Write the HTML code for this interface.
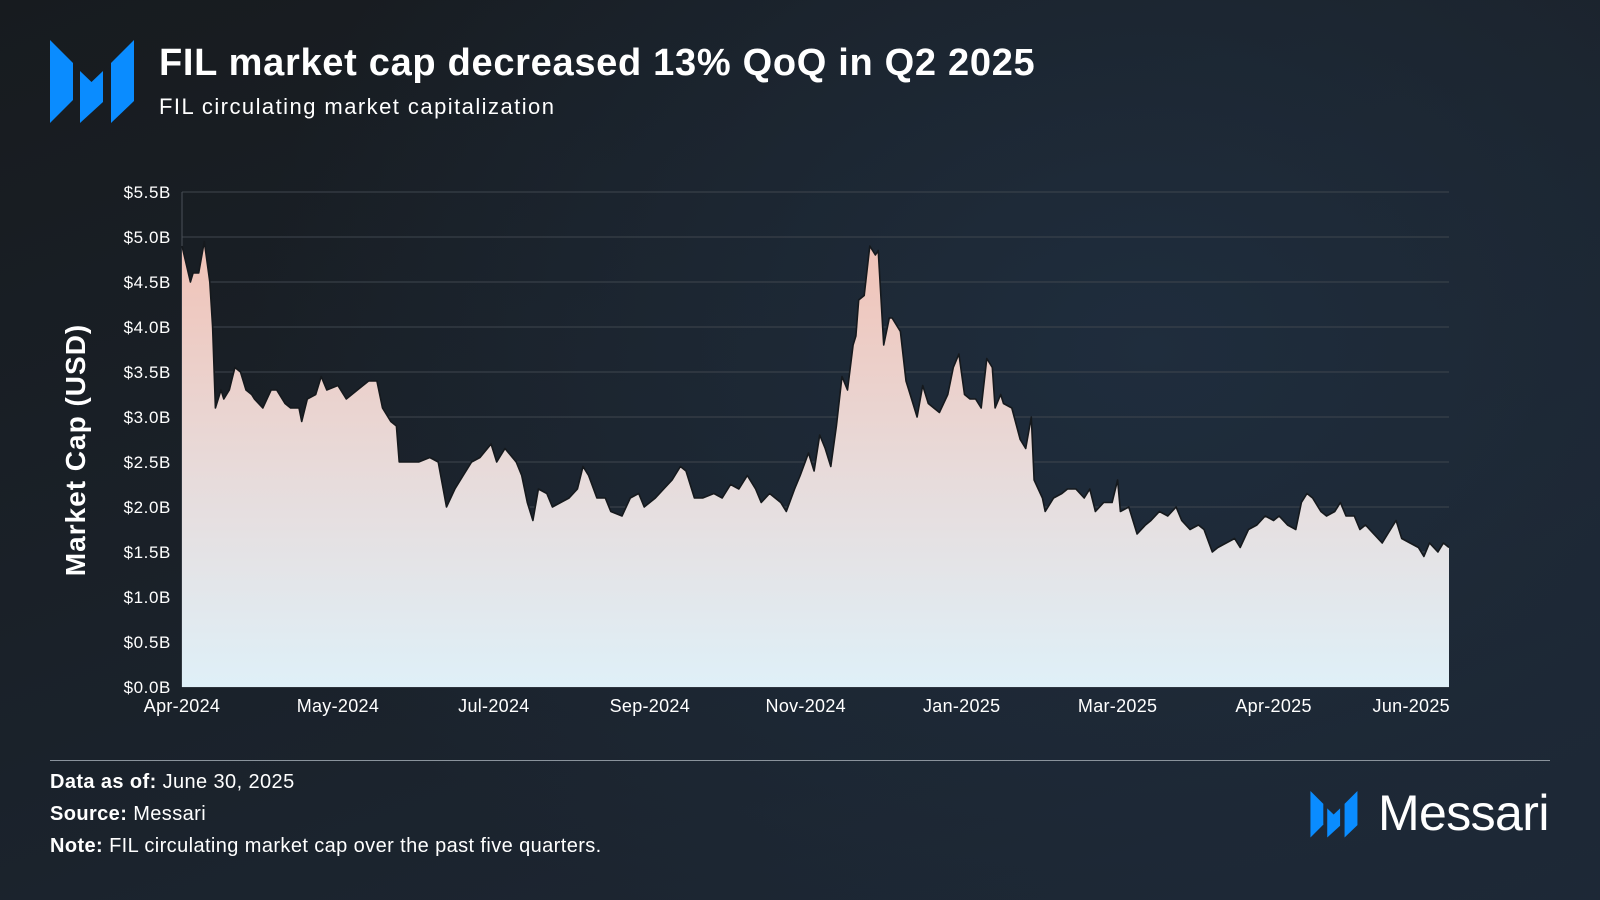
<!DOCTYPE html>
<html><head><meta charset="utf-8"><style>
html,body{margin:0;padding:0;}
body{width:1600px;height:900px;overflow:hidden;position:relative;font-family:"Liberation Sans",sans-serif;color:#fff;
background:radial-gradient(ellipse 900px 700px at 1150px 350px,#1f2d3d 0%,rgba(31,45,61,0) 100%),linear-gradient(160deg,#171b1f 0%,#1a2129 45%,#1d2836 100%);}
.abs{position:absolute;}
</style></head><body>
<svg class="abs" style="left:50px;top:40px" width="86" height="84" viewBox="0 0 86 84">
<polygon points="0,0 23,23 23,60 0,83" fill="#0a8cff"/>
<polygon points="30,31 41.5,42 53,31 53,62 30,83" fill="#0a8cff"/>
<polygon points="61,23 84,0 84,61 61,83" fill="#0a8cff"/>
</svg>
<div class="abs" style="left:159px;top:42px;font-size:38px;font-weight:bold;letter-spacing:0.7px;white-space:nowrap">FIL market cap decreased 13% QoQ in Q2 2025</div>
<div class="abs" style="left:159px;top:94px;font-size:22px;letter-spacing:1.45px;white-space:nowrap">FIL circulating market capitalization</div>

<svg class="abs" id="chart" style="left:0;top:0" width="1600" height="900"></svg>

<div class="abs" style="left:50px;top:760px;width:1500px;height:1px;background:#8a939c"></div>
<div class="abs" style="left:50px;top:771px;font-size:20px;letter-spacing:0.4px"><b>Data as of:</b> June 30, 2025</div>
<div class="abs" style="left:50px;top:803px;font-size:20px;letter-spacing:0.4px"><b>Source:</b> Messari</div>
<div class="abs" style="left:50px;top:835px;font-size:20px;letter-spacing:0.4px;white-space:nowrap"><b>Note:</b> FIL circulating market cap over the past five quarters.</div>
<svg class="abs" style="left:1310px;top:791px" width="49" height="47" viewBox="0 0 86 84">
<polygon points="0,0 23,23 23,60 0,83" fill="#0a8cff"/>
<polygon points="30,31 41.5,42 53,31 53,62 30,83" fill="#0a8cff"/>
<polygon points="61,23 84,0 84,61 61,83" fill="#0a8cff"/>
</svg>
<div class="abs" style="left:1378px;top:784px;font-size:50px;letter-spacing:-0.6px">Messari</div>

<script>
const tickLabels=["Apr-2024","May-2024","Jul-2024","Sep-2024","Nov-2024","Jan-2025","Mar-2025","Apr-2025","Jun-2025"];
const tickDays=[0,56,112,168,224,280,336,392,441];
const yTicks=[0,0.5,1,1.5,2,2.5,3,3.5,4,4.5,5,5.5];
const days=[0,3,4,6,8,10,11,12,14,15,17,19,21,23,25,26,29,32,34,37,39,42,43,45,48,50,52,56,59,63,67,70,72,75,77,78,81,85,89,92,95,98,101,104,107,111,113,116,120,122,124,126,128,131,133,136,139,142,144,146,149,152,154,158,161,164,166,170,173,176,179,181,184,187,191,194,197,200,203,206,208,211,215,217,220,222,225,227,229,231,233,235,237,239,241,242,243,245,247,249,250,252,254,255,258,260,261,264,266,268,270,272,275,277,279,281,283,285,287,289,291,292,294,295,298,301,303,305,306,309,310,313,316,318,321,324,326,328,331,334,336,337,340,343,346,348,351,354,357,359,362,365,367,370,372,375,378,380,383,386,389,392,394,397,400,402,404,406,409,411,414,416,418,421,423,425,428,431,433,436,438,441,444,446,448,451,453,455];
const caps=[4.9,4.5,4.6,4.6,4.95,4.5,4.0,3.1,3.3,3.2,3.3,3.55,3.5,3.3,3.25,3.2,3.1,3.3,3.3,3.15,3.1,3.1,2.95,3.2,3.25,3.45,3.3,3.35,3.2,3.3,3.4,3.4,3.1,2.95,2.9,2.5,2.5,2.5,2.55,2.5,2.0,2.2,2.35,2.5,2.55,2.7,2.5,2.65,2.5,2.35,2.05,1.85,2.2,2.15,2.0,2.05,2.1,2.2,2.45,2.35,2.1,2.1,1.95,1.9,2.1,2.15,2.0,2.1,2.2,2.3,2.45,2.4,2.1,2.1,2.15,2.1,2.25,2.2,2.35,2.2,2.05,2.15,2.05,1.95,2.2,2.35,2.6,2.4,2.8,2.65,2.45,2.9,3.45,3.3,3.8,3.9,4.3,4.35,4.9,4.8,4.85,3.8,4.1,4.1,3.95,3.4,3.3,3.0,3.35,3.15,3.1,3.05,3.25,3.55,3.7,3.25,3.2,3.2,3.1,3.65,3.55,3.1,3.25,3.15,3.1,2.75,2.65,3.0,2.3,2.1,1.95,2.1,2.15,2.2,2.2,2.1,2.2,1.95,2.05,2.05,2.3,1.95,2.0,1.7,1.8,1.85,1.95,1.9,2.0,1.85,1.75,1.8,1.75,1.5,1.55,1.6,1.65,1.55,1.75,1.8,1.9,1.85,1.9,1.8,1.75,2.05,2.15,2.1,1.95,1.9,1.95,2.05,1.9,1.9,1.75,1.8,1.7,1.6,1.7,1.85,1.65,1.6,1.55,1.45,1.6,1.5,1.6,1.55];

const NS="http://www.w3.org/2000/svg";
const svg=document.getElementById('chart');
const X0=182,X1=1449,Y0=687,Y1=192,DMAX=455,VMAX=5.5;
function xS(d){return X0+(d/DMAX)*(X1-X0);}
function yS(v){return Y0-(v/VMAX)*(Y0-Y1);}
function mk(tag,attrs){const e=document.createElementNS(NS,tag);for(const k in attrs)e.setAttribute(k,attrs[k]);svg.appendChild(e);return e;}

const defs=document.createElementNS(NS,'defs');
defs.innerHTML='<linearGradient id="fillg" x1="0" y1="'+yS(5)+'" x2="0" y2="'+Y0+'" gradientUnits="userSpaceOnUse"><stop offset="0" stop-color="#f1c2b6"/><stop offset="0.55" stop-color="#e7dcdc"/><stop offset="1" stop-color="#dff0f8"/></linearGradient>';
svg.appendChild(defs);

yTicks.forEach(function(v){
  const g=mk('line',{x1:X0,x2:X1,y1:yS(v),y2:yS(v),stroke:'#3f464e','stroke-width':1});
  
  
  const t=mk('text',{x:171,y:yS(v)+6,'text-anchor':'end',fill:'#fff','font-size':17,'letter-spacing':0.6,'font-family':'Liberation Sans, sans-serif'});
  t.textContent='$'+v.toFixed(1)+'B';
  
  
});
const ax=mk('line',{x1:X0,x2:X0,y1:Y1,y2:Y0,stroke:'#4a5058','stroke-width':1});



let d='M'+xS(days[0])+','+Y0;
for(let i=0;i<days.length;i++){d+=' L'+xS(days[i]).toFixed(1)+','+yS(caps[i]).toFixed(1);}
d+=' L'+xS(days[days.length-1])+','+Y0+' Z';
const area=mk('path',{d:d,fill:'url(#fillg)'});


let ld='';
for(let i=0;i<days.length;i++){ld+=(i?' L':'M')+xS(days[i]).toFixed(1)+','+yS(caps[i]).toFixed(1);}
const line=mk('path',{d:ld,fill:'none',stroke:'#15191d','stroke-width':1.6,'stroke-linejoin':'round'});



tickLabels.forEach(function(lab,i){
  const last=i===tickLabels.length-1;
  const t=mk('text',{x:last?X1+1:xS(tickDays[i]),y:712,'text-anchor':last?'end':'middle',fill:'#fff','font-size':18,'letter-spacing':0.3,'font-family':'Liberation Sans, sans-serif'});
  t.textContent=lab;
  
  
});
const yt=mk('text',{x:0,y:0,transform:'translate(85,450) rotate(-90)','text-anchor':'middle',fill:'#fff','font-size':28,'font-weight':'bold','letter-spacing':1,'font-family':'Liberation Sans, sans-serif'});
yt.textContent='Market Cap (USD)';


</script>
</body></html>
